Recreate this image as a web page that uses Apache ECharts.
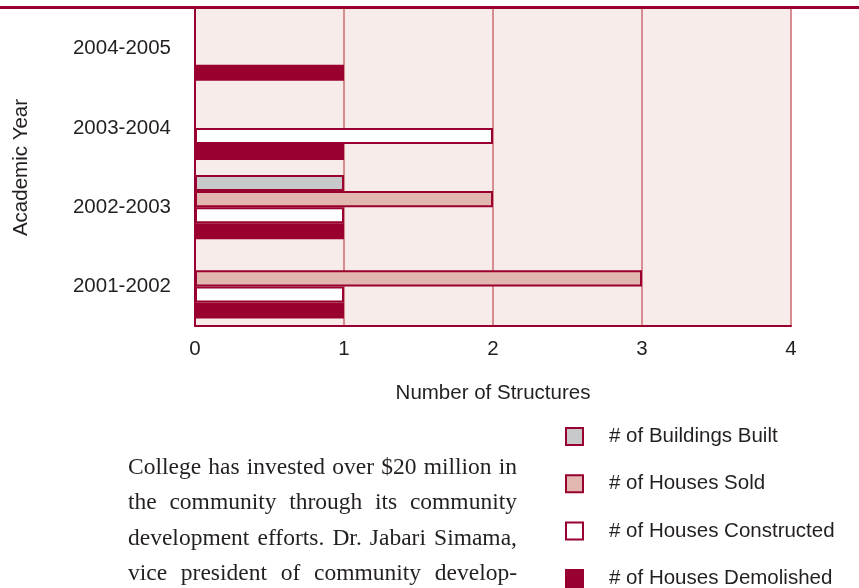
<!DOCTYPE html>
<html>
<head>
<meta charset="utf-8">
<script src="https://cdn.jsdelivr.net/npm/echarts@6/dist/echarts.min.js"></script>
<style>
  html, body { margin: 0; padding: 0; background: #fff; }
  #chart { width: 859px; height: 588px; }
  #para {
    position: absolute; left: 128px; top: 449px; width: 389px;
    font-family: 'Liberation Serif', serif; font-size: 23.5px; line-height: 35.3px; color: #231f20;
  }
  #para div { display: flex; justify-content: space-between; white-space: nowrap; }
</style>
</head>
<body>
<div id="chart"></div>
<div id="para"></div>
<script>
  // academic years, bottom to top
  const years = ['2001-2002', '2002-2003', '2003-2004', '2004-2005']
  const buildingsBuilt = [0, 1, 0, 0]
  const housesSold = [3, 2, 0, 0]
  const housesConstructed = [1, 1, 2, 0]
  const housesDemolished = [1, 1, 1, 1]
  const xTicks = [0, 1, 2, 3, 4]

  const paraLines = [
    'College has invested over $20 million in',
    'the community through its community',
    'development efforts. Dr. Jabari Simama,',
    'vice president of community develop-'
  ]

  const maroon = '#99002f'
  const textColor = '#231f20'
  const font = 'Liberation Sans, Arial, sans-serif'
  const fs = 20.5

  // justified paragraph below the chart
  const para = document.getElementById('para')
  paraLines.forEach(line => {
    const row = document.createElement('div')
    line.split(' ').forEach(w => {
      const s = document.createElement('span')
      s.textContent = w
      row.appendChild(s)
    })
    para.appendChild(row)
  })

  const chart = echarts.init(document.getElementById('chart'))

  function barSeries (name, data, fill) {
    return {
      name: name,
      type: 'bar',
      data: data,
      barGap: '0%',
      barCategoryGap: '19%',
      itemStyle: {
        color: fill,
        borderColor: maroon,
        borderWidth: 2
      }
    }
  }

  const option = {
    animation: false,
    grid: {
      left: 195,
      right: 68,
      top: 9,
      bottom: 262,
      outerBoundsMode: 'none',
      show: true,
      backgroundColor: '#f8ecea',
      borderWidth: 0
    },
    xAxis: {
      type: 'value',
      min: xTicks[0],
      max: xTicks[xTicks.length - 1],
      interval: 1,
      name: 'Number of Structures',
      nameLocation: 'middle',
      nameGap: 57,
      nameTextStyle: { fontFamily: font, fontSize: fs, color: textColor },
      axisLine: { show: true, lineStyle: { color: maroon, width: 2 } },
      axisTick: { show: false },
      axisLabel: { fontFamily: font, fontSize: fs, color: textColor, margin: 13 },
      splitLine: { show: true, lineStyle: { color: '#d68c90', width: 2 } }
    },
    yAxis: {
      type: 'category',
      data: years,
      name: 'Academic Year',
      nameLocation: 'middle',
      nameGap: 163,
      nameRotate: 90,
      nameTextStyle: { fontFamily: font, fontSize: fs, color: textColor },
      axisLine: { show: true, lineStyle: { color: maroon, width: 2 } },
      axisTick: { show: false },
      axisLabel: { fontFamily: font, fontSize: fs, color: textColor, margin: 24 },
      splitLine: { show: false }
    },
    legend: {
      orient: 'vertical',
      left: 565,
      top: 426,
      height: 180,
      padding: 0,
      itemWidth: 17,
      itemHeight: 17,
      itemGap: 26.3,
      icon: 'rect',
      textStyle: { fontFamily: font, fontSize: fs, color: textColor, padding: [0, 0, 0, 21] },
      data: ['# of Buildings Built', '# of Houses Sold', '# of Houses Constructed', '# of Houses Demolished']
    },
    graphic: [
      {
        type: 'line',
        shape: { x1: 0, y1: 7.5, x2: 859, y2: 7.5 },
        style: { stroke: maroon, lineWidth: 3 },
        z: 100
      }
    ],
    series: [
      barSeries('# of Buildings Built', buildingsBuilt, '#c8c9cb'),
      barSeries('# of Houses Sold', housesSold, '#e2b7b0'),
      barSeries('# of Houses Constructed', housesConstructed, '#ffffff'),
      barSeries('# of Houses Demolished', housesDemolished, maroon)
    ]
  }

  chart.setOption(option)
</script>
</body>
</html>
